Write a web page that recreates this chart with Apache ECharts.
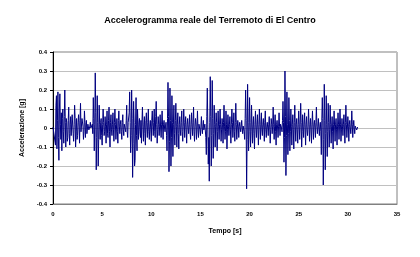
<!DOCTYPE html>
<html><head><meta charset="utf-8">
<script src="https://cdn.jsdelivr.net/npm/echarts@6/dist/echarts.min.js"></script>
<style>html,body{margin:0;padding:0;background:#fff}#c{width:420px;height:257px}</style>
</head><body><div id="c"></div>
<script>
const titleText = "Accelerogramma reale del Terremoto di El Centro";
const xName = "Tempo [s]";
const yName = "Accelerazione [g]";
const xTicks = [0,5,10,15,20,25,30,35];
const yTicks = [-0.4,-0.3,-0.2,-0.1,0,0.1,0.2,0.3,0.4];
const dt = 0.05; // sampling step [s]
const accel = [
 0.005,0.005,0.005,0.01,0.0,-0.09,0.12,0.17,-0.11,0.04,0.19,-0.05,-0.17,0.1,0.18,0.02,-0.06,0.08,-0.12,0.05,
 0.1,-0.02,-0.08,0.06,0.2,0.03,-0.1,0.05,0.03,-0.07,-0.05,0.04,0.11,-0.03,-0.09,0.02,0.06,-0.04,-0.04,0.07,
 0.08,-0.03,-0.07,0.02,0.12,0.05,-0.1,-0.02,0.05,-0.06,-0.04,0.03,0.07,0.01,-0.08,0.04,0.13,-0.02,-0.03,0.05,
 0.06,0.01,-0.06,-0.02,0.09,0.03,-0.05,0.02,0.04,-0.03,-0.03,0.02,0.02,-0.01,-0.02,0.01,0.03,0.0,-0.01,0.01,
 0.02,-0.03,0.16,0.05,-0.12,0.02,0.29,0.08,-0.22,-0.05,0.17,0.03,-0.2,-0.06,0.12,0.02,-0.06,0.03,0.05,-0.04,
 -0.09,0.02,0.1,0.03,-0.04,-0.02,0.06,0.01,-0.08,0.02,0.09,-0.03,-0.05,0.04,0.11,-0.02,-0.1,0.03,0.07,-0.01,
 -0.04,0.02,0.08,-0.01,-0.07,0.03,0.1,0.02,-0.06,-0.01,0.05,-0.02,-0.08,0.04,0.09,0.01,-0.03,0.02,0.04,-0.02,
 -0.06,0.03,0.07,-0.01,-0.04,0.02,0.03,0.01,-0.02,0.04,0.12,-0.02,-0.05,0.03,0.02,0.08,0.19,0.03,-0.13,-0.04,
 0.2,0.05,-0.26,-0.08,0.14,0.03,-0.2,-0.17,0.02,0.16,-0.04,-0.12,0.1,0.02,-0.06,0.03,0.05,-0.02,-0.05,0.04,
 -0.08,0.03,0.11,0.01,-0.07,0.02,0.06,-0.03,-0.09,0.04,0.08,0.0,-0.05,0.03,0.1,-0.02,-0.06,0.01,0.04,-0.01,
 -0.07,0.04,0.09,0.01,-0.04,0.03,0.1,-0.02,-0.05,0.06,0.14,0.02,-0.08,-0.01,0.06,0.02,-0.04,0.01,0.07,0.0,
 -0.05,0.02,0.09,0.01,-0.06,0.02,0.04,0.0,-0.02,0.01,0.03,-0.04,-0.12,0.05,0.24,0.06,-0.23,-0.07,0.21,0.04,
 -0.2,-0.05,0.17,0.03,-0.15,0.02,0.12,-0.03,-0.09,0.04,0.13,0.01,-0.1,0.02,0.08,-0.03,-0.11,0.02,0.06,-0.01,
 -0.04,0.03,0.09,-0.02,-0.07,0.01,0.1,0.03,-0.05,0.02,0.06,-0.01,-0.08,0.02,0.05,0.0,-0.03,0.02,0.07,-0.02,
 -0.06,0.02,0.08,0.01,-0.04,0.03,0.11,-0.02,-0.07,0.01,0.05,0.02,-0.06,0.01,0.09,-0.01,-0.05,0.02,0.03,-0.01,
 -0.04,0.01,0.06,0.0,-0.03,0.01,0.04,-0.01,-0.02,0.02,0.03,-0.05,-0.14,0.06,0.21,0.02,-0.19,-0.05,-0.28,0.03,
 0.27,0.06,-0.2,-0.04,0.25,0.05,-0.16,-0.03,0.12,0.02,-0.1,0.01,0.08,0.03,-0.12,-0.02,0.09,0.01,-0.06,0.02,
 0.1,0.02,-0.07,-0.01,0.05,0.02,-0.08,0.03,0.12,0.01,-0.06,-0.02,0.09,0.02,-0.11,-0.01,0.07,0.01,-0.04,0.02,
 0.06,-0.01,-0.08,0.02,0.1,0.03,-0.05,0.01,0.08,-0.02,-0.07,0.03,0.13,0.02,-0.06,0.0,0.04,0.01,-0.05,0.01,
 0.03,0.0,-0.02,0.01,0.04,0.0,-0.03,0.01,0.02,-0.02,-0.06,0.05,0.2,0.04,-0.32,-0.06,0.23,0.03,-0.12,-0.02,
 0.16,0.03,-0.1,-0.02,0.12,0.02,-0.08,0.01,0.06,-0.03,-0.11,0.02,0.09,0.0,-0.05,0.02,0.07,-0.01,-0.09,0.02,
 0.1,0.01,-0.06,0.02,0.08,-0.01,-0.04,0.02,0.05,0.0,-0.07,0.03,0.09,-0.01,-0.05,0.01,0.03,0.0,-0.04,0.02,
 0.06,0.0,-0.08,-0.01,0.05,0.02,-0.03,0.01,0.11,0.02,-0.06,0.01,0.07,-0.02,-0.09,0.02,0.04,0.0,-0.05,0.01,
 0.08,0.01,-0.04,0.02,0.03,0.0,-0.02,0.04,0.14,0.03,-0.18,-0.05,0.3,0.06,-0.25,-0.04,0.19,0.02,-0.14,-0.03,
 0.16,0.04,-0.12,-0.02,0.1,0.01,-0.09,0.02,0.07,-0.01,-0.11,0.03,0.12,0.01,-0.07,0.02,0.05,-0.01,-0.08,0.02,
 0.09,0.01,-0.06,0.02,0.13,0.03,-0.1,-0.02,0.07,0.01,-0.05,0.02,0.08,0.0,-0.09,0.02,0.06,-0.01,-0.04,0.01,
 0.1,0.02,-0.07,0.01,0.05,-0.01,-0.08,0.02,0.09,0.01,-0.06,0.02,0.04,0.0,-0.05,0.03,0.11,0.01,-0.03,0.01,
 0.05,0.0,-0.04,0.01,0.03,-0.02,-0.14,0.04,0.16,0.05,-0.3,-0.06,0.23,0.04,-0.22,-0.03,0.17,0.02,-0.15,-0.02,
 0.13,0.03,-0.1,-0.01,0.12,0.02,-0.08,0.01,0.06,-0.02,-0.11,0.02,0.09,0.01,-0.07,0.02,0.05,-0.01,-0.09,0.01,
 0.08,0.02,-0.06,0.01,0.1,0.02,-0.07,-0.01,0.05,0.01,-0.04,0.02,0.07,0.0,-0.08,0.03,0.12,0.02,-0.05,0.0,
 0.06,0.01,-0.07,0.02,0.04,0.0,-0.03,0.01,0.09,0.02,-0.05,0.01,0.04,0.0,-0.03,0.01,0.02,0.0,-0.01,0.0,
 0.005
];
const pairs = accel.map((v,i)=>[+(i*dt).toFixed(2), v]);
const chart = echarts.init(document.getElementById('c'), null, {renderer:'canvas'});
const fnt = 'Arial, "Liberation Sans", sans-serif';
chart.setOption({
  animation:false,
  backgroundColor:'#fff',
  title:{text:titleText,left:'center',top:11,textStyle:{fontFamily:fnt,fontSize:9,fontWeight:'bold',color:'#000'}},
  grid:{left:53,right:23,top:52,bottom:53,show:true,borderColor:'#808080',borderWidth:1,backgroundColor:'transparent'},
  xAxis:{type:'value',min:xTicks[0],max:xTicks[xTicks.length-1],interval:5,
    name:xName,nameLocation:'middle',nameGap:24,
    nameTextStyle:{fontFamily:fnt,fontSize:7,fontWeight:'bold',color:'#000'},
    axisLine:{show:true,onZero:false,lineStyle:{color:'#808080'}},
    axisTick:{show:false},
    axisLabel:{fontFamily:fnt,fontSize:6,fontWeight:'bold',color:'#000',margin:7},
    splitLine:{show:false}},
  yAxis:{type:'value',min:yTicks[0],max:yTicks[yTicks.length-1],interval:0.1,
    name:yName,nameLocation:'middle',nameGap:27,nameRotate:90,
    nameTextStyle:{fontFamily:fnt,fontSize:7,fontWeight:'bold',color:'#000'},
    axisLine:{show:true,lineStyle:{color:'#000'}},
    axisTick:{show:true,length:3,lineStyle:{color:'#000'}},
    axisLabel:{fontFamily:fnt,fontSize:6,fontWeight:'bold',color:'#000',margin:6,
      formatter:v=>{const r=Math.round(v*10)/10;return r===0?'0':String(r);}},
    splitLine:{show:true,lineStyle:{color:'#c0c0c0',width:1}}},
  series:[{type:'line',data:pairs,showSymbol:false,lineStyle:{color:'#000080',width:1},silent:true}]
});
</script></body></html>
